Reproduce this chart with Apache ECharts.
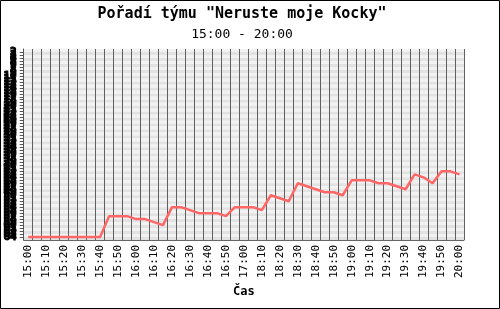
<!DOCTYPE html>
<html>
<head>
<meta charset="utf-8">
<script src="https://cdn.jsdelivr.net/npm/echarts@6/dist/echarts.min.js"></script>
<style>
html,body{margin:0;padding:0;background:#fff;}
#c{width:500px;height:309px;}
</style>
</head>
<body>
<div id="c"></div>
<script>
// Time categories (5-minute steps; data gap between 17:00 and 18:05)
const times = [
  "15:00","15:05","15:10","15:15","15:20","15:25","15:30","15:35","15:40","15:45",
  "15:50","15:55","16:00","16:05","16:10","16:15","16:20","16:25","16:30","16:35",
  "16:40","16:45","16:50","16:55","17:00","18:05","18:10","18:15","18:20","18:25",
  "18:30","18:35","18:40","18:45","18:50","18:55","19:00","19:05","19:10","19:15",
  "19:20","19:25","19:30","19:35","19:40","19:45","19:50","19:55","20:00"
];
// Team rank at each time
const rank = [
  64,64,64,64,64,64,64,64,64,
  57,57,57,58,58,59,60,
  54,54,55,56,56,56,57,
  54,54,54,55,
  50,51,52,
  46,47,48,49,49,50,
  45,45,45,46,46,47,48,
  43,44,46,
  42,42,43
];
const rankMin = 1;
const rankMax = 65;
const titleText = 'Pořadí týmu "Neruste moje Kocky"';
const subTitleText = '15:00 - 20:00';
const xName = 'Čas';

const mono = 'DejaVu Sans Mono';
const chart = echarts.init(document.getElementById('c'), null, {renderer:'canvas'});
chart.setOption({
  backgroundColor:'#fff',
  animation:false,
  title:{
    text:titleText, subtext:subTitleText, left:237, textAlign:'center', top:2, itemGap:6,
    textStyle:{fontFamily:mono, fontWeight:'bold', fontSize:15, color:'#000'},
    subtextStyle:{fontFamily:mono, fontSize:13, color:'#000'}
  },
  grid:{left:21, right:36, top:49, bottom:69},
  xAxis:{
    type:'category', data:times, boundaryGap:true,
    axisLine:{lineStyle:{color:'#666', width:1}},
    axisTick:{show:false, interval:0},
    axisLabel:{rotate:90, interval:1, fontFamily:mono, fontSize:11, color:'#000', margin:5},
    splitLine:{show:true, interval:0, lineStyle:{color:'#606060', width:1}},
    name:xName, nameLocation:'middle', nameGap:43,
    nameTextStyle:{fontFamily:mono, fontWeight:'bold', fontSize:12, color:'#000'}
  },
  yAxis:{
    type:'value', inverse:true, min:rankMin, max:rankMax, interval:1,
    axisLine:{show:true, lineStyle:{color:'#555', width:1}},
    axisTick:{show:true, length:4, lineStyle:{color:'#555'}},
    axisLabel:{fontFamily:mono, fontWeight:'bold', fontSize:11, color:'#000', margin:7,
      hideOverlap:false, textBorderColor:'#000', textBorderWidth:1},
    splitLine:{show:false},
    splitArea:{show:true, areaStyle:{color:['#f2f2f2','#e2e2e2']}}
  },
  series:[{
    type:'line', data:rank, symbol:'none', clip:false,
    lineStyle:{color:'#ff6666', width:2.5}
  }],
  graphic:[{
    type:'rect', shape:{x:0.5, y:0.5, width:499, height:308},
    style:{fill:'none', stroke:'#000', lineWidth:1}, z:100
  }]
});
</script>
</body>
</html>
